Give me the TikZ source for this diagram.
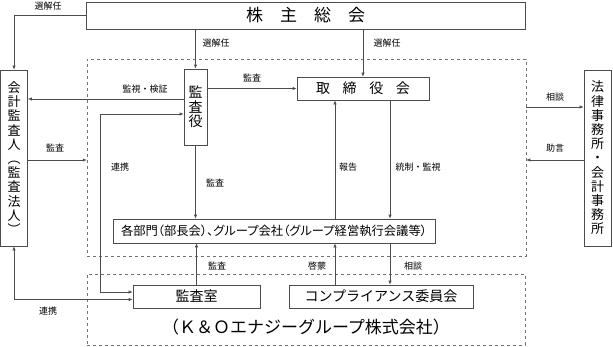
\documentclass[tikz,border=0pt]{standalone}
\usepackage{fontspec}
\setmainfont{Noto Sans CJK JP}
\newfontfamily\jpprop[RawFeature=+palt]{Noto Sans CJK JP}
\usetikzlibrary{arrows.meta,positioning}

\begin{document}
\begin{tikzpicture}[x=1pt,y=-1pt,>={Latex[length=4pt,width=3.2pt]}]
\tikzstyle{block}=[draw=black!70, rectangle, inner sep=0pt, line width=0.6pt]
\tikzstyle{group}=[draw=black!55, dashed, rectangle, inner sep=0pt, line width=0.5pt]
\tikzstyle{conn}=[draw=black!70, line width=0.6pt]
\tikzstyle{lbl}=[font=\fontsize{9}{10}\selectfont, inner sep=1pt]
\tikzstyle{vtext}=[align=center, font=\fontsize{13}{14.2}\selectfont]

\useasboundingbox (0,0) rectangle (613,346);

% groups
\node[group, minimum width=439pt, minimum height=197pt] (upper) at (306.5,157.5) {};
\node[group, minimum width=438pt, minimum height=71pt] (lower) at (306,309.5) {};

% shareholders
\node[block, minimum width=439pt, minimum height=27pt, font=\fontsize{17}{17}\selectfont] (sh) at (305.5,15.5) {株\quad 主\quad 総\quad 会};

% auditors and board
\node[block, vtext, minimum width=27pt, minimum height=176pt] (acc) at (14,158) {会\\計\\監\\査\\人\\︵\\監\\査\\法\\人\\︶};
\node[block, vtext, minimum width=23pt, minimum height=76pt, font=\fontsize{14}{14.5}\selectfont] (kansa) at (195.5,107) {監\\査\\役};
\node[block, minimum width=132pt, minimum height=23pt, font=\fontsize{14}{14}\selectfont] (bod) at (363,88.5) {取\hspace{0.9em}締\hspace{0.9em}役\hspace{0.9em}会};
\node[block, vtext, minimum width=27pt, minimum height=176pt] (law) at (597.5,158) {法\\律\\事\\務\\所\\・\\会\\計\\事\\務\\所};

% departments
\node[block, minimum width=322pt, minimum height=24pt, font=\jpprop\fontsize{12.3}{13}\selectfont] (dept) at (274,231) {各部門（部長会）、グループ会社（グループ経営執行会議等）};

% audit office and compliance
\node[block, minimum width=127pt, minimum height=23pt, font=\fontsize{14}{14}\selectfont] (audit) at (196.5,296.5) {監査室};
\node[block, minimum width=184pt, minimum height=23pt, font=\fontsize{14}{14}\selectfont] (comp) at (381,296.5) {コンプライアンス委員会};
\node[font=\fontsize{17}{17}\selectfont] (ko) at (306,327) {（Ｋ＆Ｏエナジーグループ株式会社）};

% helper coordinates
\coordinate (c1) at (335,0);
\coordinate (c2) at (390,0);
\coordinate (lk) at (100,0);
\coordinate (k1) at ([yshift=8pt]kansa.west);
\coordinate (k2) at ([yshift=-7pt]kansa.west);
\coordinate (a1) at ([yshift=4.5pt]audit.west);
\coordinate (a2) at ([yshift=-3pt]audit.west);
\coordinate (a3) at ([yshift=-2pt]acc.east);
\coordinate (l1) at ([yshift=51pt]law.west);
\coordinate (l2) at ([yshift=-2pt]law.west);

% arrows
\draw[conn,->] (sh.west) -| (acc.north);
\draw[conn,->] (sh.south -| kansa.north) -- (kansa.north);
\draw[conn,->] (sh.south -| bod.north) -- (bod.north);
\draw[conn,->] (kansa.east |- bod.west) -- (bod.west);
\draw[conn,->] (k1) -- (k1 -| acc.east);
\draw[conn,<->] (k2) -| (lk |- a1) -- (a1);
\draw[conn,<->] (acc.south) |- (a2);
\draw[conn,->] (a3) -- (a3 -| upper.west);
\draw[conn,->] (kansa.south) -- (kansa.south |- dept.north);
\draw[conn,->] (c1 |- dept.north) -- (c1 |- bod.south);
\draw[conn,->] (c2 |- bod.south) -- (c2 |- dept.north);
\draw[conn,->] (audit.north) -- (audit.north |- dept.south);
\draw[conn,->] (c1 |- comp.north) -- (c1 |- dept.south);
\draw[conn,->] (c2 |- dept.south) -- (c2 |- comp.north);
\draw[conn,->] (l1 -| upper.east) -- (l1);
\draw[conn,->] (l2) -- (l2 -| upper.east);

% labels
\node[lbl] (t1) at (48,6) {選解任};
\node[lbl] (t2) at (216,43) {選解任};
\node[lbl] (t3) at (387,43) {選解任};
\node[lbl] (t4) at (252,78) {監査};
\node[lbl] (t5) at (145,89) {監視・検証};
\node[lbl] (t6) at (120,167) {連携};
\node[lbl] (t7) at (55,148) {監査};
\node[lbl] (t8) at (48,311) {連携};
\node[lbl] (t9) at (215,183) {監査};
\node[lbl] (t10) at (348,167) {報告};
\node[lbl] (t11) at (418,167) {統制・監視};
\node[lbl] (t12) at (217,266) {監査};
\node[lbl] (t13) at (317,266) {啓蒙};
\node[lbl] (t14) at (413,266) {相談};
\node[lbl] (t15) at (555,97) {相談};
\node[lbl] (t16) at (555,148) {助言};

\end{tikzpicture}
\end{document}
